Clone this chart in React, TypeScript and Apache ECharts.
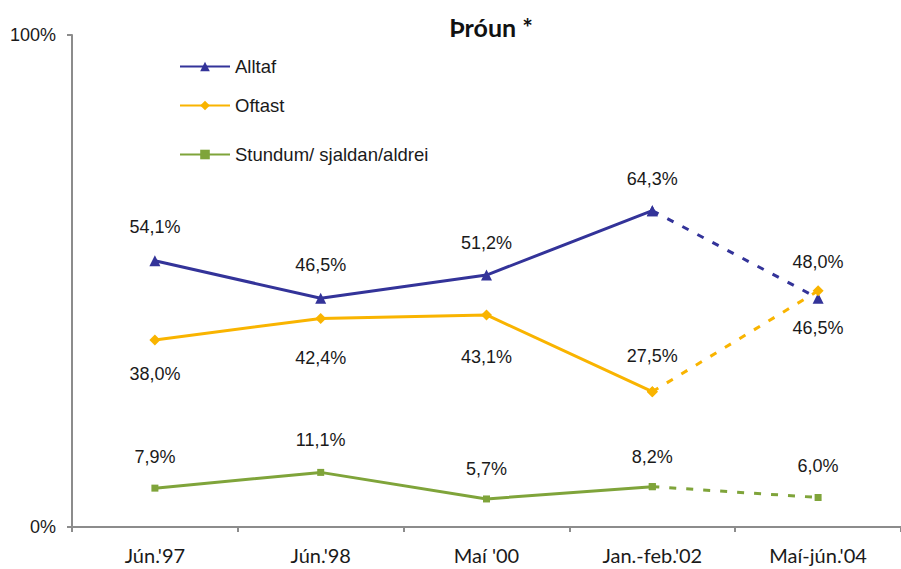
import React, { useEffect, useRef } from "react";
import * as echarts from "echarts";

const categories = ["Jún.'97", "Jún.'98", "Maí '00", "Jan.-feb.'02", "Maí-jún.'04"];
const alltaf = [54.1, 46.5, 51.2, 64.3, 46.5];
const oftast = [38.0, 42.4, 43.1, 27.5, 48.0];
const stundum = [7.9, 11.1, 5.7, 8.2, 6.0];
const yTicks = [0, 100];

const fmt = (v: number) => v.toFixed(1).replace(".", ",") + "%";
const labelFont = "'Liberation Sans Narrow', 'Liberation Sans', Arial, sans-serif";
const axisFont = "Lato, 'Open Sans', sans-serif";

type Cfg = {
  name: string;
  data: number[];
  color: string;
  symbol: string;
  symbolSize: number;
  pos: ("top" | "bottom")[];
  dist: number[];
};

const cfgs: Cfg[] = [
  { name: "Alltaf", data: alltaf, color: "#333399", symbol: "triangle", symbolSize: 11, pos: ["top", "top", "top", "top", "bottom"], dist: [19, 19, 18, 17, 15] },
  { name: "Oftast", data: oftast, color: "#F9B400", symbol: "diamond", symbolSize: 11, pos: ["bottom", "bottom", "bottom", "top", "top"], dist: [19, 25, 28, 21, 14] },
  { name: "Stundum/ sjaldan/aldrei", data: stundum, color: "#7FA43A", symbol: "rect", symbolSize: 7, pos: ["top", "top", "top", "top", "top"], dist: [18.5, 19.5, 17.5, 17.5, 19] },
];

export default function App() {
  const ref = useRef<HTMLDivElement>(null);
  useEffect(() => {
    const chart = echarts.init(ref.current!, undefined, { renderer: "svg" });
    const series: any[] = [];
    cfgs.forEach((c) => {
      const mkLabel = (i: number) => ({
        show: true,
        position: c.pos[i],
        distance: c.dist[i],
        formatter: () => fmt(c.data[i]),
        fontFamily: labelFont,
        fontSize: 18,
        color: "#1a1a1a",
      });
      const solid = c.data.map((v, i) => (i < 4 ? { value: v, label: mkLabel(i) } : "-"));
      const dashed = c.data.map((v, i) =>
        i < 3 ? "-" : i === 3 ? { value: v, label: { show: false } } : { value: v, label: mkLabel(i) }
      );
      const base = {
        type: "line",
        name: c.name,
        symbol: c.symbol,
        symbolSize: c.symbolSize,
        itemStyle: { color: c.color },
        connectNulls: false,
      };
      series.push({ ...base, data: solid, lineStyle: { color: c.color, width: 3 }, z: 3 });
      series.push({ ...base, data: dashed, lineStyle: { color: c.color, width: 3, type: [7, 10] }, z: 2 });
    });

    const legendTops = [57, 96, 145];
    const legends = cfgs.map((c, i) => ({
      data: [c.name],
      left: 179,
      top: legendTops[i],
      padding: 0,
      itemWidth: 50,
      itemHeight: 12,
      itemGap: 0,
      textStyle: { fontFamily: labelFont, fontSize: 18.5, color: "#1a1a1a" },
      selectedMode: false,
    }));

    chart.setOption({
      animation: false,
      backgroundColor: "#ffffff",
      title: {
        text: "Þróun *",
        left: 486,
        textAlign: "center",
        top: 9,
        textStyle: { fontFamily: axisFont, fontWeight: "bold", fontSize: 25, color: "#111" },
      },
      legend: legends,
      grid: { left: 72, top: 35, width: 835, height: 492, containLabel: false },
      xAxis: {
        type: "category",
        data: categories,
        boundaryGap: true,
        axisLine: { lineStyle: { color: "#8c8c8c", width: 2 } },
        axisTick: { show: true, length: 5, lineStyle: { color: "#8c8c8c", width: 2 } },
        axisLabel: { fontFamily: axisFont, fontSize: 20, color: "#1a1a1a", margin: 18 },
      },
      yAxis: {
        type: "value",
        min: yTicks[0],
        max: yTicks[1],
        interval: 100,
        axisLine: { show: true, lineStyle: { color: "#8c8c8c", width: 2 } },
        axisTick: { show: true, length: 5, lineStyle: { color: "#8c8c8c", width: 2 } },
        splitLine: { show: false },
        axisLabel: { formatter: "{value}%", fontFamily: labelFont, fontSize: 18, color: "#1a1a1a", margin: 16 },
      },
      series,
    });
    return () => chart.dispose();
  }, []);
  return <div ref={ref} style={{ position: "fixed", left: 0, top: 0, width: 901, height: 569 }} />;
}
